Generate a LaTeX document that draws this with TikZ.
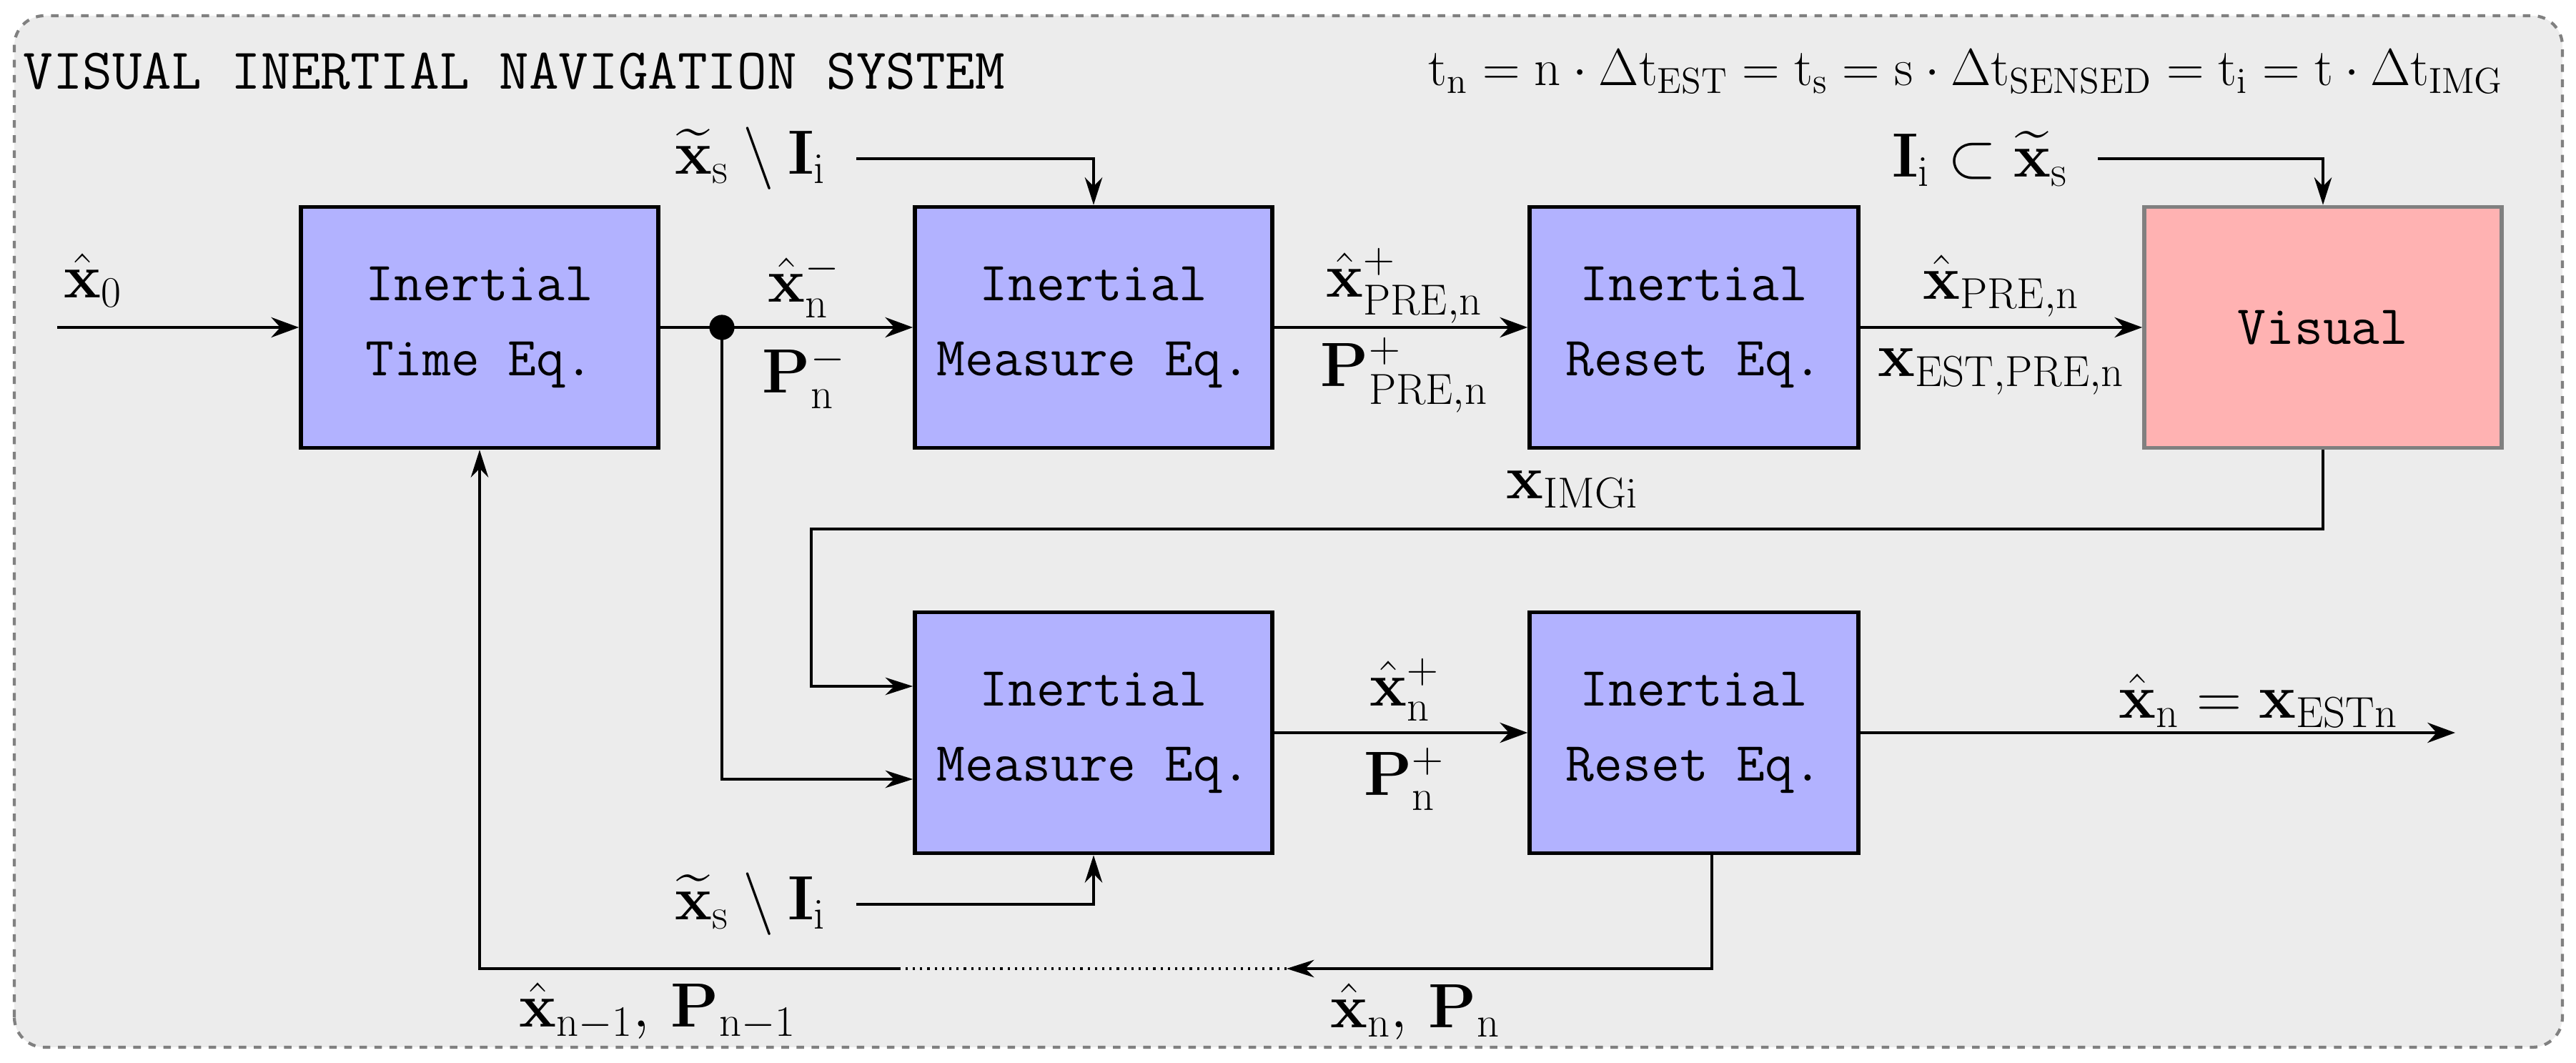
\documentclass[tikz,border=0pt]{standalone}
\usepackage{amsmath}
\usepackage{amssymb}
\usetikzlibrary{arrows.meta,positioning}
\tikzset{
  block/.style={draw, line width=1.6pt, fill=blue!30, minimum width=5cm, minimum height=3.37cm, align=center, font=\fontsize{22}{30}\selectfont\ttfamily},
  sig/.style={line width=1.3pt, -{Stealth[length=11pt,width=8pt]}},
  thinsig/.style={line width=0.9pt, -{Stealth[length=11pt,width=7pt]}},
  lbl/.style={font=\fontsize{24}{28}\selectfont}
}
\begin{document}
\begin{tikzpicture}[x=1cm,y=1cm]
\useasboundingbox (0,0) rectangle (36.04,14.87);
\draw[gray, dashed, line width=1.2pt, rounded corners=12pt, fill=gray!15] (0.2,0.22) rectangle (35.85,14.65);

\node[anchor=west, font=\fontsize{23}{28}\selectfont\ttfamily] (title) at (0.2,13.87) {VISUAL INERTIAL NAVIGATION SYSTEM};
\node[anchor=east, font=\fontsize{22}{26}\selectfont] (eq) at (35.15,13.87) {$\mathrm{t_n = n\cdot\Delta t_{EST} = t_s = s\cdot\Delta t_{SENSED} = t_i = t\cdot\Delta t_{IMG}}$};

\node[block] (time) at (6.71,10.29) {Inertial\\Time Eq.};
\node[block] (meas) at (15.30,10.29) {Inertial\\Measure Eq.};
\node[block, minimum width=4.6cm] (reset) at (23.70,10.29) {Inertial\\Reset Eq.};
\node[block, fill=red!30, draw=gray] (visual) at (32.50,10.29) {Visual};
\node[block] (meastwo) at (15.30,4.62) {Inertial\\Measure Eq.};
\node[block, minimum width=4.6cm] (resettwo) at (23.70,4.62) {Inertial\\Reset Eq.};

\coordinate (in) at (0.8,10.29);
\coordinate (out) at (34.35,4.62);
\coordinate (split) at (10.10,10.29);
\fill (split) circle (5pt);

% top row
\draw[sig] (in) -- (time);
\draw[sig] (time) -- (meas);
\draw[sig] (meas) -- (reset);
\draw[sig] (reset) -- (visual);
\node[lbl] (xzero) at (1.30,10.95) {$\hat{\mathbf{x}}_0$};
\node[lbl] (xminus) at (11.25,10.87) {$\hat{\mathbf{x}}^-_{\mathrm{n}}$};
\node[lbl] (pminus) at (11.25,9.60) {$\mathbf{P}^-_{\mathrm{n}}$};
\node[lbl] (xpre) at (19.65,10.87) {$\hat{\mathbf{x}}^+_{\mathrm{PRE,n}}$};
\node[lbl] (ppre) at (19.65,9.62) {$\mathbf{P}^+_{\mathrm{PRE,n}}$};
\node[lbl] (xprehat) at (28.00,10.87) {$\hat{\mathbf{x}}_{\mathrm{PRE,n}}$};
\node[lbl] (xest) at (28.00,9.67) {$\mathbf{x}_{\mathrm{EST,PRE,n}}$};

% sensed inputs
\node[lbl] (zone) at (10.50,12.65) {$\widetilde{\mathbf{x}}_{\mathrm{s}}\setminus\mathbf{I}_{\mathrm{i}}$};
\node[lbl] (ztwo) at (27.70,12.65) {$\mathbf{I}_{\mathrm{i}}\subset\widetilde{\mathbf{x}}_{\mathrm{s}}$};
\node[lbl] (zthree) at (10.50,2.22) {$\widetilde{\mathbf{x}}_{\mathrm{s}}\setminus\mathbf{I}_{\mathrm{i}}$};
\draw[thinsig] (zone.east) ++(0.3,0) -| (meas.north);
\draw[thinsig] (ztwo.east) ++(0.3,0) -| (visual.north);
\draw[thinsig] (zthree.east) ++(0.3,0) -| (meastwo.south);

% image feedback
\node[lbl] (ximg) at (22.00,8.02) {$\mathbf{x}_{\mathrm{IMGi}}$};
\draw[thinsig] (visual.south) |- (11.35,7.47) |- ([yshift=0.65cm]meastwo.west);
\draw[thinsig] (split) |- ([yshift=-0.65cm]meastwo.west);

% bottom row
\draw[sig] (meastwo) -- (resettwo);
\draw[sig] (resettwo) -- (out);
\node[lbl] (xplus) at (19.65,5.22) {$\hat{\mathbf{x}}^+_{\mathrm{n}}$};
\node[lbl] (pplus) at (19.65,3.97) {$\mathbf{P}^+_{\mathrm{n}}$};
\node[lbl] (xout) at (31.60,5.07) {$\hat{\mathbf{x}}_{\mathrm{n}} = \mathbf{x}_{\mathrm{ESTn}}$};

% loop back
\coordinate (fbone) at (18.00,1.32);
\coordinate (fbtwo) at (12.60,1.32);
\draw[thinsig] ([xshift=0.25cm]resettwo.south) |- (fbone);
\draw[line width=0.9pt, dotted] (fbone) -- (fbtwo);
\draw[thinsig] (fbtwo) -| (time.south);
\node[lbl] (xnow) at (19.80,0.72) {$\hat{\mathbf{x}}_{\mathrm{n}},\,\mathbf{P}_{\mathrm{n}}$};
\node[lbl] (xprev) at (9.20,0.72) {$\hat{\mathbf{x}}_{\mathrm{n-1}},\,\mathbf{P}_{\mathrm{n-1}}$};
\end{tikzpicture}
\end{document}
